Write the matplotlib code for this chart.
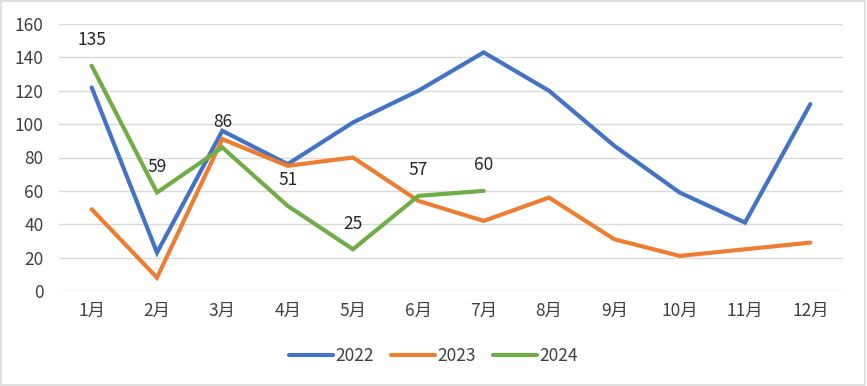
import matplotlib
matplotlib.use("Agg")
import matplotlib.pyplot as plt

plt.rcParams['font.family'] = ['Noto Sans CJK SC', 'DejaVu Sans']

months = ['1月', '2月', '3月', '4月', '5月', '6月', '7月', '8月', '9月', '10月', '11月', '12月']
s2022 = [122, 23, 96, 76, 101, 120, 143, 120, 87, 59, 41, 112]
s2023 = [49, 8, 91, 75, 80, 54, 42, 56, 31, 21, 25, 29]
s2024 = [135, 59, 86, 51, 25, 57, 60]
yticks = [0, 20, 40, 60, 80, 100, 120, 140, 160]

fs = 12.5
fig = plt.figure(figsize=(8.67, 3.86), dpi=100)
fig.patch.set_facecolor('white')
ax = fig.add_axes([59/867, 1-291/386, (843-59)/867, (291-24)/386])

x = list(range(len(months)))
lw = 3.0
ax.plot(x, s2022, color='#4472C4', lw=lw, label='2022', solid_capstyle='round', solid_joinstyle='miter', zorder=3)
ax.plot(x, s2023, color='#ED7D31', lw=lw, label='2023', solid_capstyle='round', solid_joinstyle='miter', zorder=3)
ax.plot(x[:len(s2024)], s2024, color='#70AD47', lw=lw, label='2024', solid_capstyle='round', solid_joinstyle='miter', zorder=4)

for xi, v in zip(x, s2024):
    ax.annotate(str(v), (xi, v), xytext=(0, 12), textcoords='offset points',
                ha='center', va='bottom', fontsize=fs, color='#262626')

ax.set_xlim(-0.5, len(months)-0.5)
ax.set_ylim(0, 160)
ax.set_yticks(yticks)
ax.set_xticks(x)
ax.set_xticklabels(months)
ax.grid(axis='y', color='#D9D9D9', lw=1.0)
ax.set_axisbelow(True)
for sp in ax.spines.values():
    sp.set_visible(False)
ax.tick_params(axis='both', length=0, labelsize=fs, labelcolor='#404040')
ax.tick_params(axis='y', pad=11)
ax.tick_params(axis='x', pad=8)

leg = fig.legend(loc='center', bbox_to_anchor=(0.5, 1-356/386), ncol=3, frameon=False,
                 fontsize=fs, handlelength=2.5, handletextpad=0.15, columnspacing=1.0)
for t in leg.get_texts():
    t.set_color('#404040')
for h in leg.get_lines():
    h.set_solid_capstyle('round')

# outer border
fig.add_artist(plt.Rectangle((0.001, 0.002), 0.997, 0.995, transform=fig.transFigure,
                             fill=False, edgecolor='#D9D9D9', lw=1.2))

fig.savefig('out.png', dpi=100, facecolor='white')
